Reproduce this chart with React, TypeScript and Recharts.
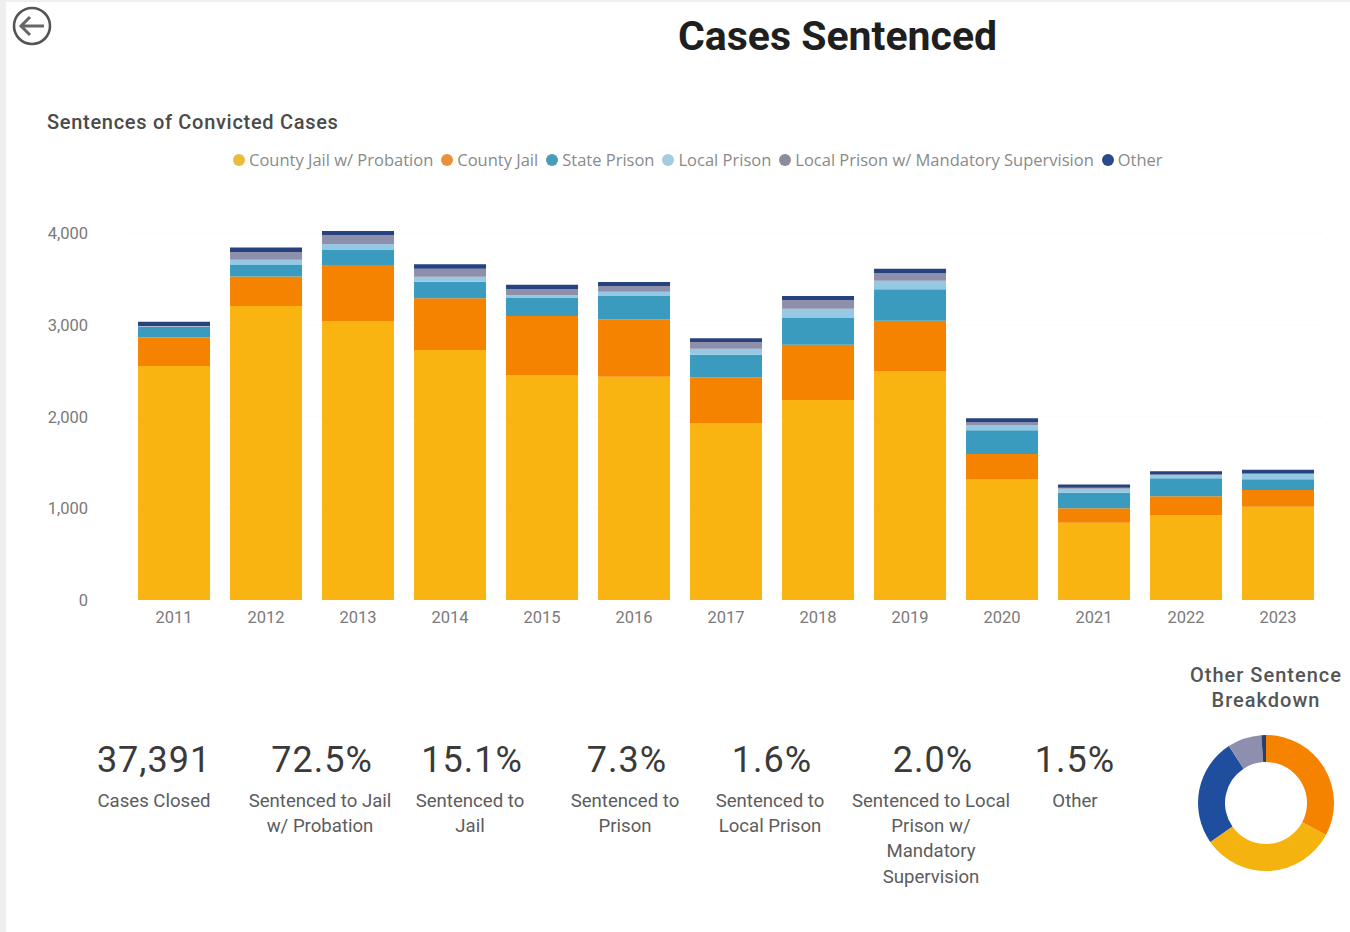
import { BarChart, Bar, XAxis, YAxis, CartesianGrid, PieChart, Pie, Cell } from 'recharts'

const years = ['2011', '2012', '2013', '2014', '2015', '2016', '2017', '2018', '2019', '2020', '2021', '2022', '2023']
const countyJailProbation = [2555, 3210, 3046, 2729, 2456, 2438, 1932, 2183, 2500, 1320, 844, 928, 1019]
const countyJail = [311, 320, 611, 564, 644, 627, 499, 604, 549, 273, 157, 204, 182]
const statePrison = [115, 128, 164, 181, 197, 254, 247, 291, 343, 259, 170, 197, 117]
const localPrison = [5, 55, 65, 55, 33, 47, 65, 102, 94, 58, 44, 36, 58]
const localPrisonMandatory = [5, 87, 95, 87, 62, 62, 73, 95, 81, 29, 10, 5, 5]
const other = [47, 47, 47, 48, 50, 44, 40, 44, 50, 44, 37, 36, 40]

const seriesNames = ['County Jail w/ Probation', 'County Jail', 'State Prison', 'Local Prison', 'Local Prison w/ Mandatory Supervision', 'Other']
const seriesValues = [countyJailProbation, countyJail, statePrison, localPrison, localPrisonMandatory, other]
const seriesColors = ['#FAB412', '#F58300', '#3A9BBF', '#95C8E2', '#8D8FAB', '#26427F']
const legendDots = ['#E9BC3C', '#E9913A', '#4A9DB8', '#A5CBE0', '#8C8C9A', '#2B4A8B']

const yTicks = [0, 1000, 2000, 3000, 4000]
const gridValues = [1000, 2000, 3000, 4000]

const donutNames = ['County Jail', 'Probation', 'Fine', 'Other Custody', 'Unknown']
const donutValues = [32.8, 32.5, 25.5, 8.1, 1.1]
const donutColors = ['#F58300', '#F5B30F', '#1F4E9E', '#8E8FAE', '#2B3F6B']

const kpiValues = ['37,391', '72.5%', '15.1%', '7.3%', '1.6%', '2.0%', '1.5%']
const kpiLabels = [
  ['Cases Closed'],
  ['Sentenced to Jail', 'w/ Probation'],
  ['Sentenced to', 'Jail'],
  ['Sentenced to', 'Prison'],
  ['Sentenced to', 'Local Prison'],
  ['Sentenced to Local', 'Prison w/', 'Mandatory', 'Supervision'],
  ['Other'],
]
const kpiValueCenters = [154, 322, 472, 627, 772, 933, 1075]
const kpiLabelCenters = [154, 320, 470, 625, 770, 931, 1075]

const chartData = years.map((year, i) => {
  const row: Record<string, string | number> = { year }
  seriesNames.forEach((name, s) => {
    row[name] = seriesValues[s][i]
  })
  return row
})
const donutData = donutNames.map((name, i) => ({ name, value: donutValues[i] }))

const tickStyle = { fontSize: 16.5, fill: '#7a7a7a', fontFamily: 'Roboto' }
const labelFont = 'Roboto'

export default function App() {
  return (
    <div style={{ position: 'absolute', left: 0, top: 0, width: 1350, height: 932, background: '#fff', overflow: 'hidden', fontFamily: labelFont }}>
      <div style={{ position: 'absolute', left: 0, top: 0, width: 6, height: 932, background: '#efefef' }} />
      <div style={{ position: 'absolute', left: 0, top: 0, width: 1350, height: 2, background: '#efefef' }} />

      <svg style={{ position: 'absolute', left: 10, top: 4 }} width={44} height={44} viewBox="0 0 44 44">
        <circle cx={22} cy={22} r={18} fill="none" stroke="#555" strokeWidth={2.6} />
        <path d="M34 22H11M20 13l-9 9 9 9" fill="none" stroke="#666" strokeWidth={3} />
      </svg>

      <div style={{ position: 'absolute', left: 678, top: 12, fontSize: 41, fontWeight: 700, color: '#1f1f1f', whiteSpace: 'nowrap' }}>
        Cases Sentenced
      </div>
      <div style={{ position: 'absolute', left: 47, top: 110, fontSize: 20, fontWeight: 500, letterSpacing: 0.7, color: '#4a4a4a', whiteSpace: 'nowrap' }}>
        Sentences of Convicted Cases
      </div>

      <div style={{ position: 'absolute', left: 233, top: 148, display: 'flex', fontFamily: 'Open Sans', fontSize: 16.5, color: '#8a8a8a', whiteSpace: 'nowrap' }}>
        {seriesNames.map((name, i) => (
          <div key={name} style={{ display: 'flex', alignItems: 'center', marginRight: 8 }}>
            <span style={{ width: 12, height: 12, borderRadius: 6, background: legendDots[i], marginRight: 4 }} />
            {name}
          </div>
        ))}
      </div>

      <div style={{ position: 'absolute', left: 0, top: 0 }}>
        <BarChart
          width={1350}
          height={640}
          data={chartData}
          barCategoryGap="10.9%"
          margin={{ top: 231, right: 26, bottom: 0, left: 0 }}
        >
          <CartesianGrid vertical={false} horizontalValues={gridValues} stroke="#f0f0f0" strokeDasharray="1 3" />
          <XAxis dataKey="year" height={40} axisLine={false} tickLine={false} tick={tickStyle} tickMargin={5} />
          <YAxis width={128} domain={[0, 4000]} ticks={yTicks} axisLine={false} tickLine={false} tick={tickStyle} tickMargin={34} tickFormatter={v => v.toLocaleString('en-US')} />
          {seriesNames.map((name, i) => (
            <Bar key={name} dataKey={name} stackId="a" fill={seriesColors[i]} isAnimationActive={false} />
          ))}
        </BarChart>
      </div>

      {kpiValues.map((value, i) => (
        <div key={value}>
          <div style={{ position: 'absolute', left: kpiValueCenters[i] - 100, width: 200, top: 738, textAlign: 'center', fontSize: 36, lineHeight: '44px', color: '#3a3a3a', letterSpacing: 1 }}>
            {value}
          </div>
          <div style={{ position: 'absolute', left: kpiLabelCenters[i] - 100, width: 200, top: 789, textAlign: 'center', fontSize: 18.6, lineHeight: '25.2px', color: '#5c5c5c' }}>
            {kpiLabels[i].map(line => (
              <div key={line}>{line}</div>
            ))}
          </div>
        </div>
      ))}

      <div style={{ position: 'absolute', left: 1166, width: 200, top: 663, textAlign: 'center', fontSize: 20, fontWeight: 500, letterSpacing: 1, lineHeight: '25px', color: '#555' }}>
        <div>Other Sentence</div>
        <div>Breakdown</div>
      </div>

      <div style={{ position: 'absolute', left: 1186, top: 723 }}>
        <PieChart width={160} height={160} margin={{ top: 0, right: 0, bottom: 0, left: 0 }}>
          <Pie
            data={donutData}
            dataKey="value"
            cx={80}
            cy={80}
            innerRadius={41}
            outerRadius={68}
            startAngle={90}
            endAngle={-270}
            stroke="none"
            isAnimationActive={false}
          >
            {donutData.map((d, i) => (
              <Cell key={d.name} fill={donutColors[i]} />
            ))}
          </Pie>
        </PieChart>
      </div>
    </div>
  )
}
